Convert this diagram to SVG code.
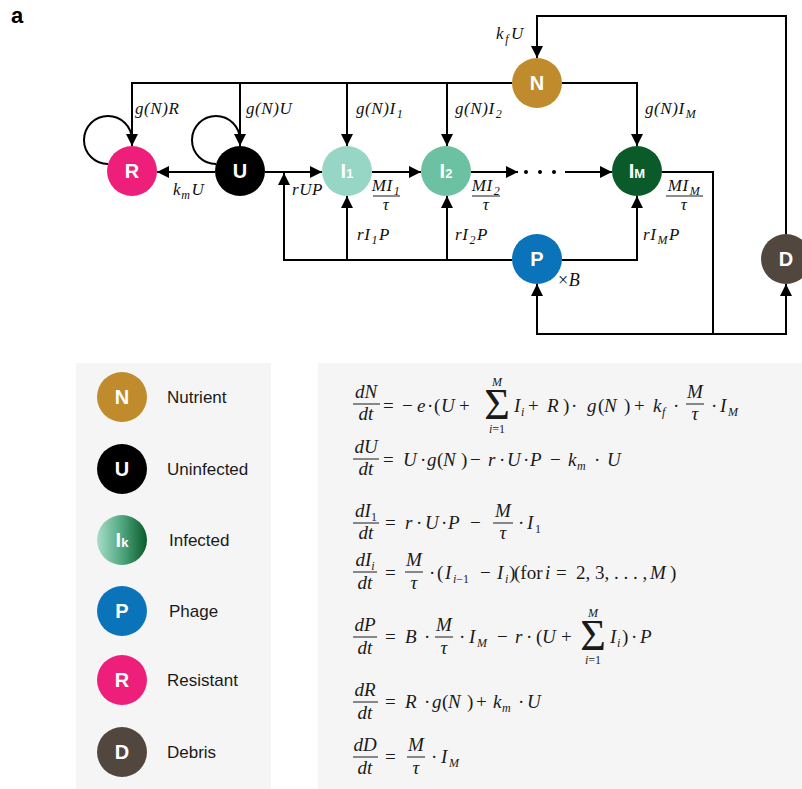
<svg xmlns="http://www.w3.org/2000/svg" width="802" height="789" viewBox="0 0 802 789">
<defs>
<style>
.c{stroke:#000;stroke-width:2;fill:none}
.a{marker-end:url(#ah)}
.lbl{font-family:"Liberation Serif","DejaVu Serif",serif;font-style:italic;font-size:17px;letter-spacing:0.6px;fill:#111}
.nt{font-family:"Liberation Sans",Arial,sans-serif;font-weight:bold;font-size:20px;fill:#fff;text-anchor:middle}
.lg{font-family:"Liberation Sans",Arial,sans-serif;font-size:17px;fill:#1a1a1a}
.m{font-family:"Liberation Serif","DejaVu Serif",serif;font-size:19px;fill:#1a1a1a}
.i{font-style:italic}
.s{font-size:12px}
.mid{text-anchor:middle}
.bar{stroke:#1a1a1a;stroke-width:1}
.bg{fill:#f5f5f5}
</style>
<marker id="ah" markerUnits="userSpaceOnUse" markerWidth="12" markerHeight="12" refX="12" refY="6" orient="auto"><path d="M0,0 L12,6 L0,12 z" fill="#000"/></marker>
<linearGradient id="gk" x1="0" x2="1" y1="0" y2="0"><stop offset="0" stop-color="#a8ddca"/><stop offset="0.5" stop-color="#4fa67f"/><stop offset="1" stop-color="#0a5a2a"/></linearGradient>
</defs>
<rect width="802" height="789" fill="#fff"/>
<text x="11" y="23" font-family="Liberation Sans, Arial, sans-serif" font-weight="bold" font-size="22">a</text>

<g id="connectors" class="c">
<path class="a" d="M512,83 H132 V146"/>
<path class="a" d="M240,83 V146"/>
<path class="a" d="M347,83 V146"/>
<path class="a" d="M447,83 V146"/>
<path class="a" d="M562,83 H637 V146"/>
<path class="a" d="M786,234 V16 H537 V58"/>
<path d="M108,164 A24,24 0 1 1 132,140"/>
<path d="M216,164 A24,24 0 1 1 240,140"/>
<path class="a" d="M215,172 H157"/>
<path class="a" d="M265,172 H322"/>
<path class="a" d="M372,172 H421"/>
<path class="a" d="M471,172 H518"/>
<path class="a" d="M565,172 H612"/>
<path d="M662,172 H713 V334"/>
<path class="a" d="M713,334 H537 V284"/>
<path class="a" d="M713,334 H786 V284"/>
<path class="a" d="M512,260 H284 V173"/>
<path class="a" d="M347,260 V196"/>
<path class="a" d="M447,260 V196"/>
<path class="a" d="M562,260 H637 V196"/>
</g>
<g id="ellipsis" fill="#000"><circle cx="526" cy="172" r="2"/><circle cx="540" cy="172" r="2"/><circle cx="554" cy="172" r="2"/></g>

<g id="edge-labels" class="lbl">
<text x="135" y="114">g(N)R</text>
<text x="246" y="114">g(N)U</text>
<text x="356" y="114">g(N)I<tspan class="s" dx="1" dy="4">1</tspan></text>
<text x="455" y="114">g(N)I<tspan class="s" dx="1" dy="4">2</tspan></text>
<text x="645" y="114">g(N)I<tspan class="s" dx="1" dy="4">M</tspan></text>
<text x="496" y="39">k<tspan class="s" dx="1" dy="4">f</tspan><tspan dx="2" dy="-4">U</tspan></text>
<text x="173" y="195">k<tspan class="s" dy="4">m</tspan><tspan dx="1" dy="-4">U</tspan></text>
<text x="292" y="195">rUP</text>
<text x="386" y="191" class="mid">MI<tspan class="s" dx="1" dy="4">1</tspan></text>
<line class="bar" x1="373" y1="196" x2="400" y2="196"/>
<text x="386" y="210" class="mid">τ</text>
<text x="486" y="191" class="mid">MI<tspan class="s" dx="1" dy="4">2</tspan></text>
<line class="bar" x1="472" y1="196" x2="500" y2="196"/>
<text x="486" y="210" class="mid">τ</text>
<text x="684" y="191" class="mid">MI<tspan class="s" dx="1" dy="4">M</tspan></text>
<line class="bar" x1="666" y1="196" x2="703" y2="196"/>
<text x="684" y="210" class="mid">τ</text>
<text x="357" y="240">rI<tspan class="s" dx="1" dy="4">1</tspan><tspan dx="1" dy="-4">P</tspan></text>
<text x="455" y="240">rI<tspan class="s" dx="1" dy="4">2</tspan><tspan dx="1" dy="-4">P</tspan></text>
<text x="643" y="240">rI<tspan class="s" dx="1" dy="4">M</tspan><tspan dx="1" dy="-4">P</tspan></text>
<text x="558" y="286" font-size="18"><tspan font-style="normal">×</tspan>B</text>
</g>

<g id="node-N"><circle cx="537" cy="83" r="25" fill="#c08b2c"/><text class="nt" x="537" y="90">N</text></g>
<g id="node-R"><circle cx="132" cy="171" r="25" fill="#ee1e7b"/><text class="nt" x="132" y="178">R</text></g>
<g id="node-U"><circle cx="240" cy="171" r="25" fill="#000"/><text class="nt" x="240" y="178">U</text></g>
<g id="node-I1"><circle cx="347" cy="171" r="25" fill="#97d6c4"/><text class="nt" x="347" y="178">I<tspan font-size="13">1</tspan></text></g>
<g id="node-I2"><circle cx="446" cy="171" r="25" fill="#6cc1a2"/><text class="nt" x="446" y="178">I<tspan font-size="13">2</tspan></text></g>
<g id="node-IM"><circle cx="637" cy="171" r="25" fill="#0a5a2a"/><text class="nt" x="637" y="178">I<tspan font-size="13">M</tspan></text></g>
<g id="node-P"><circle cx="537" cy="259" r="25" fill="#0a73b9"/><text class="nt" x="537" y="266">P</text></g>
<g id="node-D"><circle cx="786" cy="259" r="25" fill="#51473f"/><text class="nt" x="786" y="266">D</text></g>

<g id="legend">
<rect class="bg" x="76" y="363" width="195" height="426"/>
<g id="legend-N"><circle cx="122" cy="397" r="25" fill="#c08b2c"/><text class="nt" x="122" y="404">N</text><text class="lg" x="167" y="403">Nutrient</text></g>
<g id="legend-U"><circle cx="122" cy="469" r="25" fill="#000"/><text class="nt" x="122" y="476">U</text><text class="lg" x="167" y="475">Uninfected</text></g>
<g id="legend-I"><circle cx="122" cy="540" r="25" fill="url(#gk)"/><text class="nt" x="122" y="547">I<tspan font-size="13">k</tspan></text><text class="lg" x="169" y="546">Infected</text></g>
<g id="legend-P"><circle cx="122" cy="611" r="25" fill="#0a73b9"/><text class="nt" x="122" y="618">P</text><text class="lg" x="169" y="617">Phage</text></g>
<g id="legend-R"><circle cx="122" cy="680" r="25" fill="#ee1e7b"/><text class="nt" x="122" y="687">R</text><text class="lg" x="167" y="686">Resistant</text></g>
<g id="legend-D"><circle cx="122" cy="752" r="25" fill="#51473f"/><text class="nt" x="122" y="759">D</text><text class="lg" x="167" y="758">Debris</text></g>
</g>

<g id="equations">
<rect class="bg" x="318" y="363" width="484" height="426"/>
<g id="eq-N" class="m">
<text class="i mid" x="366" y="398">dN</text>
<line class="bar" x1="353" y1="404" x2="380" y2="404"/>
<text class="i mid" x="366" y="420">dt</text>
<text y="412"><tspan x="383">=</tspan><tspan x="402">−</tspan><tspan x="417" class="i">e</tspan><tspan x="427">·</tspan><tspan x="434">(</tspan><tspan x="441" class="i">U</tspan><tspan x="459">+</tspan></text>
<text class="mid" x="497" y="419" font-size="44">Σ</text>
<text class="mid i s" x="497" y="386">M</text>
<text class="mid s" x="497" y="433"><tspan class="i">i</tspan>=1</text>
<text y="412"><tspan x="514" class="i">I</tspan><tspan class="i s" x="521" y="416">i</tspan><tspan x="528" y="412">+</tspan><tspan x="547" class="i">R</tspan><tspan x="563">)</tspan><tspan x="571">·</tspan><tspan x="587" class="i">g</tspan><tspan x="598">(</tspan><tspan x="604" class="i">N</tspan><tspan x="624">)</tspan><tspan x="634">+</tspan><tspan x="653" class="i">k</tspan><tspan x="662" y="416" class="i s">f</tspan><tspan x="673" y="412">·</tspan></text>
<text class="i mid" x="695" y="398">M</text>
<line class="bar" x1="686" y1="404" x2="704" y2="404"/>
<text class="i mid" x="695" y="420">τ</text>
<text y="412"><tspan x="711">·</tspan><tspan x="720" class="i">I</tspan><tspan x="728" y="416" class="i s">M</tspan></text>
</g>
<g id="eq-U" class="m">
<text class="i mid" x="366" y="453">dU</text>
<line class="bar" x1="353" y1="459" x2="379" y2="459"/>
<text class="i mid" x="366" y="475">dt</text>
<text y="466"><tspan x="383">=</tspan><tspan x="403" class="i">U</tspan><tspan x="420">·</tspan><tspan x="427" class="i">g</tspan><tspan x="437">(</tspan><tspan x="443" class="i">N</tspan><tspan x="461">)</tspan><tspan x="470">−</tspan><tspan x="488" class="i">r</tspan><tspan x="499">·</tspan><tspan x="507" class="i">U</tspan><tspan x="523">·</tspan><tspan x="530" class="i">P</tspan><tspan x="550">−</tspan><tspan x="568" class="i">k</tspan><tspan x="577" y="470" class="i s">m</tspan><tspan x="594" y="466">·</tspan><tspan x="607" class="i">U</tspan></text>
</g>
<g id="eq-I1" class="m">
<text class="i mid" x="366" y="517">dI<tspan class="s" dy="4" font-style="normal">1</tspan></text>
<line class="bar" x1="353" y1="523" x2="379" y2="523"/>
<text class="i mid" x="366" y="539">dt</text>
<text y="529"><tspan x="385">=</tspan><tspan x="405" class="i">r</tspan><tspan x="416">·</tspan><tspan x="425" class="i">U</tspan><tspan x="441">·</tspan><tspan x="448" class="i">P</tspan><tspan x="470">−</tspan></text>
<text class="i mid" x="503" y="517">M</text>
<line class="bar" x1="493" y1="523" x2="513" y2="523"/>
<text class="i mid" x="503" y="539">τ</text>
<text y="529"><tspan x="518">·</tspan><tspan x="527" class="i">I</tspan><tspan x="535" y="533" class="s">1</tspan></text>
</g>
<g id="eq-Ii" class="m">
<text class="i mid" x="365" y="566">dI<tspan class="s" dy="4">i</tspan></text>
<line class="bar" x1="353" y1="572" x2="377" y2="572"/>
<text class="i mid" x="365" y="589">dt</text>
<text y="579"><tspan x="385">=</tspan></text>
<text class="i mid" x="414" y="566">M</text>
<line class="bar" x1="405" y1="572" x2="423" y2="572"/>
<text class="i mid" x="414" y="589">τ</text>
<text y="579"><tspan x="429">·</tspan><tspan x="437">(</tspan><tspan x="445" class="i">I</tspan><tspan x="453" y="583" class="s"><tspan class="i">i</tspan>−1</tspan><tspan x="480" y="579">−</tspan><tspan x="497" class="i">I</tspan><tspan x="505" y="583" class="i s">i</tspan><tspan x="509" y="579">)</tspan><tspan x="514">(for</tspan><tspan x="545" class="i">i</tspan><tspan x="556">=</tspan><tspan x="576">2, 3, . . . ,</tspan><tspan x="650" class="i">M</tspan><tspan x="670">)</tspan></text>
</g>
<g id="eq-P" class="m">
<text class="i mid" x="365" y="631">dP</text>
<line class="bar" x1="353" y1="637" x2="377" y2="637"/>
<text class="i mid" x="365" y="654">dt</text>
<text y="643"><tspan x="385">=</tspan><tspan x="405" class="i">B</tspan><tspan x="424">·</tspan></text>
<text class="i mid" x="444" y="631">M</text>
<line class="bar" x1="435" y1="637" x2="453" y2="637"/>
<text class="i mid" x="444" y="654">τ</text>
<text y="643"><tspan x="459">·</tspan><tspan x="469" class="i">I</tspan><tspan x="477" y="647" class="i s">M</tspan><tspan x="497" y="643">−</tspan><tspan x="515" class="i">r</tspan><tspan x="526">·</tspan><tspan x="536">(</tspan><tspan x="542" class="i">U</tspan><tspan x="561">+</tspan></text>
<text class="mid" x="593" y="650" font-size="44">Σ</text>
<text class="mid i s" x="593" y="617">M</text>
<text class="mid s" x="593" y="664"><tspan class="i">i</tspan>=1</text>
<text y="643"><tspan x="610" class="i">I</tspan><tspan x="617" y="647" class="i s">i</tspan><tspan x="622" y="643">)</tspan><tspan x="631">·</tspan><tspan x="640" class="i">P</tspan></text>
</g>
<g id="eq-R" class="m">
<text class="i mid" x="365" y="696">dR</text>
<line class="bar" x1="353" y1="702" x2="378" y2="702"/>
<text class="i mid" x="365" y="719">dt</text>
<text y="708"><tspan x="385">=</tspan><tspan x="405" class="i">R</tspan><tspan x="424">·</tspan><tspan x="432" class="i">g</tspan><tspan x="442">(</tspan><tspan x="448" class="i">N</tspan><tspan x="467">)</tspan><tspan x="476">+</tspan><tspan x="493" class="i">k</tspan><tspan x="502" y="712" class="i s">m</tspan><tspan x="518" y="708">·</tspan><tspan x="527" class="i">U</tspan></text>
</g>
<g id="eq-D" class="m">
<text class="i mid" x="365" y="751">dD</text>
<line class="bar" x1="353" y1="757" x2="378" y2="757"/>
<text class="i mid" x="365" y="774">dt</text>
<text y="763"><tspan x="385">=</tspan></text>
<text class="i mid" x="416" y="751">M</text>
<line class="bar" x1="407" y1="757" x2="425" y2="757"/>
<text class="i mid" x="416" y="774">τ</text>
<text y="763"><tspan x="431">·</tspan><tspan x="441" class="i">I</tspan><tspan x="449" y="767" class="i s">M</tspan></text>
</g>
</g>
</svg>
